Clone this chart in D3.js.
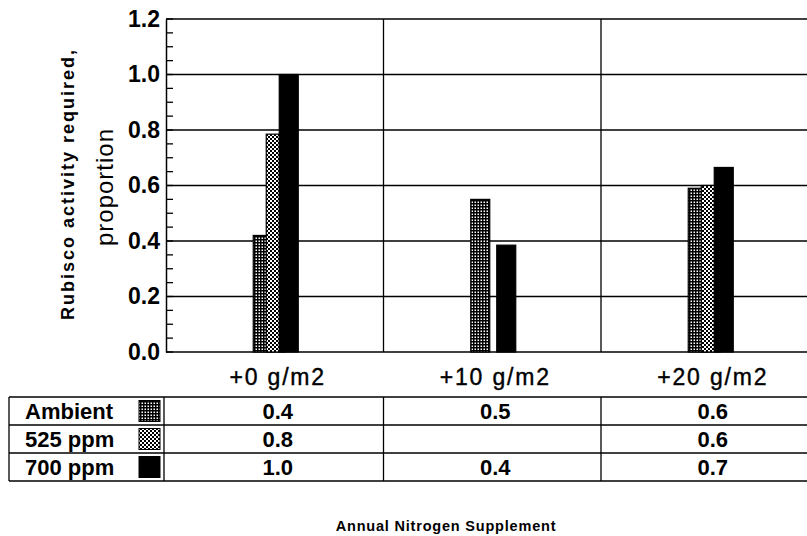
<!DOCTYPE html>
<html><head><meta charset="utf-8">
<script src="https://cdn.jsdelivr.net/npm/d3@7"></script>
<style>body{margin:0;background:#fff}svg{display:block}text{font-family:"Liberation Sans",Arial,sans-serif;fill:#000}</style>
</head><body><svg id="c" width="807" height="536"></svg>
<script>
const categories = ["+0 g/m2", "+10 g/m2", "+20 g/m2"];
const seriesNames = ["Ambient", "525 ppm", "700 ppm"];
const ambientValues = [0.42, 0.55, 0.59];
const ppm525Values = [0.785, null, 0.60];
const ppm700Values = [1.0, 0.385, 0.665];
const ambientLabels = ["0.4", "0.5", "0.6"];
const ppm525Labels = ["0.8", "", "0.6"];
const ppm700Labels = ["1.0", "0.4", "0.7"];
const yTicks = [0.0, 0.2, 0.4, 0.6, 0.8, 1.0, 1.2];
const yMinorTicks = d3.range(0, 1.2001, 0.05);

(function(){
const seriesValues = [ambientValues, ppm525Values, ppm700Values];
const seriesLabels = [ambientLabels, ppm525Labels, ppm700Labels];
const fills = ["url(#patA)", "url(#patB)", "#000"];

const svg = d3.select("#c");
const defs = svg.append("defs");
const pA = defs.append("pattern").attr("id","patA").attr("width",3).attr("height",3).attr("patternUnits","userSpaceOnUse");
pA.append("rect").attr("width",3).attr("height",3).attr("fill","#000");
pA.append("rect").attr("x",0.5).attr("y",0.5).attr("width",1.5).attr("height",1.5).attr("fill","#fff");
const pB = defs.append("pattern").attr("id","patB").attr("width",4).attr("height",4).attr("patternUnits","userSpaceOnUse");
pB.append("rect").attr("width",4).attr("height",4).attr("fill","#fff");
pB.append("rect").attr("x",0).attr("y",0).attr("width",2).attr("height",2).attr("fill","#000");
pB.append("rect").attr("x",2).attr("y",2).attr("width",2).attr("height",2).attr("fill","#000");

const pLeft = 166, pTop = 19, pBottom = 352, pRight = 807;
const x = d3.scaleBand().domain(categories).range([pLeft, pLeft + 3*217.5]).paddingInner(0).paddingOuter(0);
const xOff = d3.scalePoint().domain(seriesNames).range([-21.5, 4.5]);
const barW = 19;
const y = d3.scaleLinear().domain([0, 1.2]).range([pBottom, pTop]);

svg.append("g").selectAll("line").data(yTicks).join("line")
  .attr("x1", pLeft).attr("x2", pRight)
  .attr("y1", d => y(d)).attr("y2", d => y(d))
  .attr("stroke", "#000").attr("stroke-width", 1.5);
svg.append("g").selectAll("line").data(categories.slice(1)).join("line")
  .attr("x1", d => x(d)).attr("x2", d => x(d))
  .attr("y1", pTop).attr("y2", pBottom)
  .attr("stroke", "#000").attr("stroke-width", 1.3);

const yAxis = d3.axisLeft(y).tickValues(yTicks).tickFormat(d3.format(".1f")).tickSize(0).tickPadding(6);
const ga = svg.append("g").attr("transform", `translate(${pLeft},0)`).call(yAxis);
ga.select(".domain").attr("stroke","#000").attr("stroke-width",1.5);
ga.selectAll("text").attr("font-size", 23).attr("font-weight", "bold").attr("font-family", "Liberation Sans, Arial, sans-serif").attr("fill","#000");
svg.append("g").selectAll("line").data(yMinorTicks).join("line")
  .attr("x1", pLeft).attr("x2", pLeft + 7)
  .attr("y1", d => y(d)).attr("y2", d => y(d))
  .attr("stroke", "#000").attr("stroke-width", 1.3);

seriesNames.forEach((s, si) => {
  svg.append("g").selectAll("rect").data(categories.map((c, i) => ({c, v: seriesValues[si][i]})).filter(d => d.v != null))
    .join("rect")
    .attr("x", d => x(d.c) + x.bandwidth()/2 + xOff(s))
    .attr("y", d => y(d.v))
    .attr("width", barW)
    .attr("height", d => y(0) - y(d.v))
    .attr("fill", fills[si]).attr("stroke", "#000").attr("stroke-width", 1.2);
});

svg.append("g").selectAll("text").data(categories).join("text")
  .attr("x", d => x(d) + x.bandwidth()/2 + 3).attr("y", 385)
  .attr("text-anchor", "middle").attr("font-size", 23).attr("letter-spacing", 1.8)
  .attr("stroke", "#000").attr("stroke-width", 0.4)
  .text(d => d);

svg.append("text").attr("transform", "translate(74,184) rotate(-90)")
  .attr("text-anchor","middle").attr("font-size",18).attr("font-weight","bold").attr("letter-spacing",2)
  .text("Rubisco activity required,");
svg.append("text").attr("transform", "translate(113,187) rotate(-90)")
  .attr("text-anchor","middle").attr("font-size",24).attr("letter-spacing",1)
  .text("proportion");

const tTop = 397, tBot = 481, tLeft = 9, tLabelRight = 164;
const row = d3.scaleBand().domain(seriesNames).range([tTop, tBot]);
const hl = [tTop, ...seriesNames.slice(1).map(s => row(s)), tBot];
svg.append("g").selectAll("line").data(hl).join("line")
  .attr("x1", tLeft).attr("x2", pRight).attr("y1", d => d).attr("y2", d => d)
  .attr("stroke","#000").attr("stroke-width",1.5);
const vl = [tLeft, tLabelRight, ...categories.slice(1).map(c => x(c))];
svg.append("g").selectAll("line").data(vl).join("line")
  .attr("x1", d => d).attr("x2", d => d).attr("y1", tTop).attr("y2", tBot)
  .attr("stroke","#000").attr("stroke-width",1.3);
seriesNames.forEach((s, si) => {
  const cy = row(s) + row.bandwidth()/2;
  svg.append("text").attr("x", 25).attr("y", cy + 8).attr("font-size", 22).attr("font-weight","bold").text(s);
  svg.append("rect").attr("x", 139).attr("y", cy - 10.5).attr("width", 21).attr("height", 21)
    .attr("fill", fills[si]).attr("stroke","#000").attr("stroke-width",1);
  svg.append("g").selectAll("text").data(categories).join("text")
    .attr("x", (d) => x(d) + x.bandwidth()/2 + 3).attr("y", cy + 8)
    .attr("text-anchor","middle").attr("font-size",22).attr("font-weight","bold")
    .text((d, i) => seriesLabels[si][i]);
});

svg.append("text").attr("x", 446).attr("y", 531).attr("text-anchor","middle")
  .attr("font-size",14.5).attr("font-weight","bold").attr("letter-spacing",0.8)
  .text("Annual Nitrogen Supplement");
})();
</script></body></html>
